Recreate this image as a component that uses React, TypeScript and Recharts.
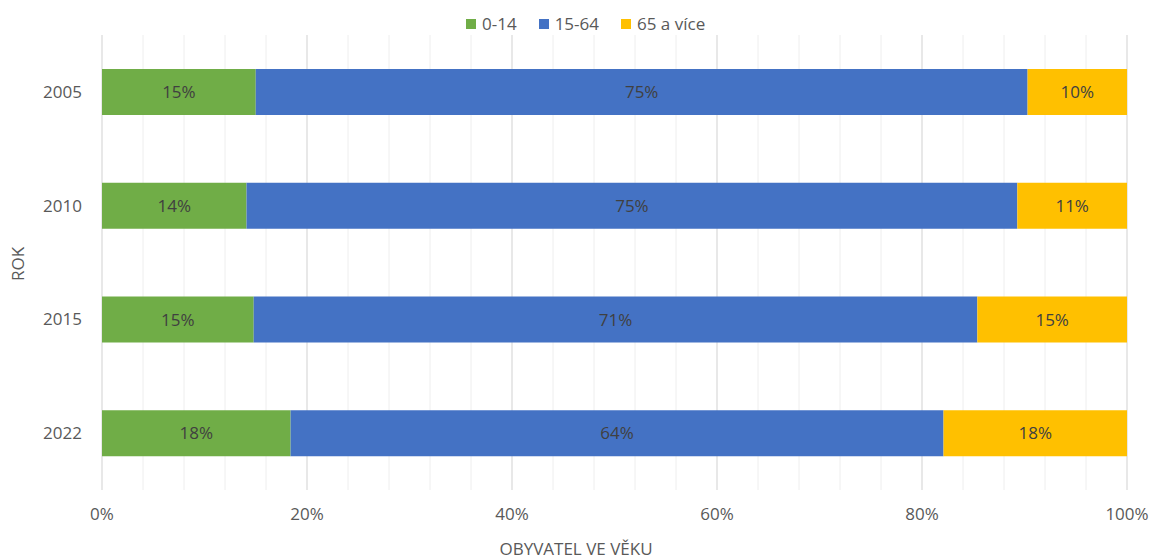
import { BarChart, Bar, XAxis, YAxis, CartesianGrid, LabelList } from 'recharts'

const YEARS = ['2005', '2010', '2015', '2022']
const KIDS = [15.0, 14.1, 14.8, 18.4]      // 0-14
const ADULTS = [75.3, 75.2, 70.6, 63.7]    // 15-64
const SENIORS = [9.7, 10.7, 14.6, 17.9]    // 65 a více

const MINOR_TICKS = [0, 4, 8, 12, 16, 20, 24, 28, 32, 36, 40, 44, 48, 52, 56, 60, 64, 68, 72, 76, 80, 84, 88, 92, 96, 100]
const MAJOR_TICKS = [0, 20, 40, 60, 80, 100]

const SERIES = [
  { key: 'kids', name: '0-14', color: '#70AD47' },
  { key: 'adults', name: '15-64', color: '#4472C4' },
  { key: 'seniors', name: '65 a více', color: '#FFC000' },
]

const FONT = '"Open Sans", "Noto Sans", sans-serif'
const TEXT = '#595959'
const FS = 17

const data = YEARS.map((y, i) => ({ year: y, kids: KIDS[i], adults: ADULTS[i], seniors: SENIORS[i] }))

const pct = (v: any) => `${Math.round(Number(v))}%`

function XTick({ x, y, payload }: any) {
  if (!MAJOR_TICKS.includes(payload.value)) return null
  return (
    <text x={x} y={y + 22} textAnchor="middle" fill={TEXT} fontSize={FS} fontFamily={FONT}>
      {payload.value}%
    </text>
  )
}

// major gridlines at every 20%, placed through the x axis scale
const majorLines = ({ xAxis, offset }: any) =>
  MAJOR_TICKS.map((t) =>
    xAxis && typeof xAxis.scale === 'function'
      ? xAxis.scale(t)
      : offset.left + (t / 100) * offset.width,
  )

export default function App() {
  return (
    <div style={{ position: 'absolute', left: 0, top: 0, width: 1153, height: 559, background: '#fff' }}>
      <div
        style={{
          position: 'absolute', top: 12, left: 466,
          display: 'flex', gap: 22, fontFamily: FONT, fontSize: FS, color: TEXT, whiteSpace: 'nowrap',
        }}
      >
        {SERIES.map((s) => (
          <span key={s.key} style={{ display: 'flex', alignItems: 'center' }}>
            <span style={{ display: 'inline-block', width: 10, height: 10, background: s.color, marginRight: 6 }} />
            {s.name}
          </span>
        ))}
      </div>
      <BarChart
        width={1153}
        height={559}
        data={data}
        layout="vertical"
        margin={{ top: 35, right: 26, bottom: 39, left: 0 }}
        barCategoryGap={0}
      >
        <CartesianGrid vertical horizontal={false} stroke="#eeeeee" />
        <CartesianGrid vertical horizontal={false} stroke="#d9d9d9" verticalCoordinatesGenerator={majorLines} />
        <XAxis
          type="number"
          domain={[0, 100]}
          ticks={MINOR_TICKS}
          interval={0}
          axisLine={false}
          tickLine={false}
          tick={<XTick />}
          label={{
            content: ({ viewBox }: any) => (
              <text x={576} y={viewBox.y + 65} textAnchor="middle" fill={TEXT} fontSize={FS} fontFamily={FONT}>
                OBYVATEL VE VĚKU
              </text>
            ),
          }}
        />
        <YAxis
          type="category"
          dataKey="year"
          width={102}
          axisLine={false}
          tickLine={false}
          tickMargin={14}
          tick={{ fill: TEXT, fontSize: FS, fontFamily: FONT }}
          label={{
            content: () => (
              <text x={24} y={264} transform="rotate(-90 24 264)" textAnchor="middle" fill={TEXT} fontSize={FS} fontFamily={FONT}>
                ROK
              </text>
            ),
          }}
        />
        {SERIES.map((s) => (
          <Bar key={s.key} dataKey={s.key} name={s.name} stackId="a" fill={s.color} barSize={46} isAnimationActive={false}>
            <LabelList dataKey={s.key} position="center" formatter={pct} fill="#404040" fontSize={FS} fontFamily={FONT} />
          </Bar>
        ))}
      </BarChart>
    </div>
  )
}
